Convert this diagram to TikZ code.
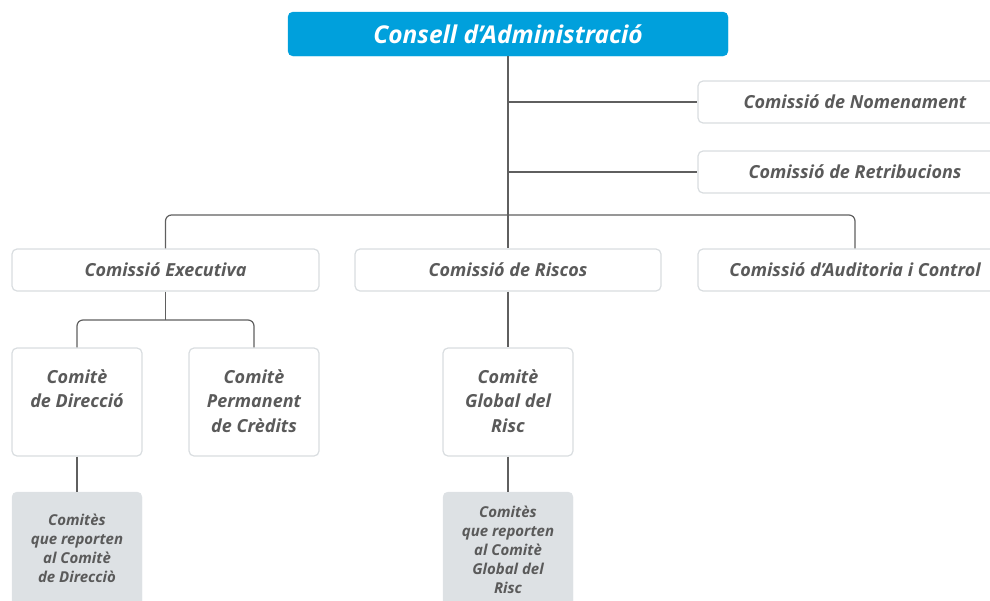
\documentclass[tikz,border=0pt]{standalone}
\usepackage{fontspec}
\setmainfont{Open Sans}
\definecolor{cyanbox}{HTML}{00A0DC}
\definecolor{txt}{HTML}{5A5A5A}
\definecolor{edge}{HTML}{D9DDE0}
\definecolor{greyfill}{HTML}{DDE1E4}
\definecolor{conn}{HTML}{5F5F5F}
\tikzset{
  box/.style={draw=edge, line width=1.2pt, fill=white, rounded corners=5pt, inner sep=0pt, text=txt, font=\fontsize{18}{22}\selectfont\bfseries\itshape},
  greybox/.style={draw=greyfill, fill=greyfill, rounded corners=5pt, inner sep=0pt},
  lbl/.style={text=txt, align=center, inner sep=0pt, font=\fontsize{18}{24.5}\selectfont\bfseries\itshape},
  slbl/.style={text=txt, align=center, inner sep=0pt, font=\fontsize{15}{19}\selectfont\bfseries\itshape},
  link/.style={draw=conn, line width=1.2pt},
}
\begin{document}
\begin{tikzpicture}[x=1pt,y=-1pt]
\useasboundingbox (0,0) rectangle (990,600);
% top
\node[draw=cyanbox, fill=cyanbox, rounded corners=5pt, minimum width=440pt, minimum height=44pt, inner sep=0pt, text=white, font=\fontsize{24.5}{28}\selectfont\bfseries\itshape] (ca) at (508,34) {Consell d’Administració};
\node[box, minimum width=314pt, minimum height=42pt] (nom) at (855,102) {Comissió de Nomenament};
\node[box, minimum width=314pt, minimum height=42pt] (ret) at (855,172) {Comissió de Retribucions};
\node[box, minimum width=307pt, minimum height=42pt] (ex) at (165.5,270) {Comissió Executiva};
\node[box, minimum width=306pt, minimum height=42pt] (ri) at (508,270) {Comissió de Riscos};
\node[box, minimum width=314pt, minimum height=42pt] (au) at (855,270) {Comissió d’Auditoria i Control};
% committees
\node[box, minimum width=130pt, minimum height=108pt] (cd) at (77,402) {};
\node[box, minimum width=130pt, minimum height=108pt] (cp) at (254,402) {};
\node[box, minimum width=130pt, minimum height=108pt] (cg) at (508,402) {};
\node[lbl, anchor=north] (cdt) at ([yshift=-22pt]cd.north) {Comitè\\de Direcció};
\node[lbl, anchor=north] (cpt) at ([yshift=-22pt]cp.north) {Comitè\\Permanent\\de Crèdits};
\node[lbl, anchor=north] (cgt) at ([yshift=-22pt]cg.north) {Comitè\\Global del\\Risc};
% grey boxes
\node[greybox, minimum width=130pt, minimum height=120pt] (gd) at (77,552) {};
\node[greybox, minimum width=130pt, minimum height=120pt] (gg) at (508,552) {};
\node[slbl, anchor=north] (gdt) at ([yshift=-22pt]gd.north) {Comitès\\que reporten\\al Comitè\\de Direcciò};
\node[slbl, anchor=north] (ggt) at ([yshift=-14pt]gg.north) {Comitès\\que reporten\\al Comitè\\Global del\\Risc};
% connectors
\coordinate (bus) at (508,215);
\coordinate (bus2) at (165.5,320);
\draw[link] (ca.south) -- (ri.north);
\draw[link] (ca.south |- nom.west) -- (nom.west);
\draw[link] (ca.south |- ret.west) -- (ret.west);
\draw[link, rounded corners=6pt] (ex.north) |- (bus) -| (au.north);
\draw[link] (ex.south) -- (bus2);
\draw[link, rounded corners=6pt] (cd.north) |- (bus2) -| (cp.north);
\draw[link] (cd.south) -- (gd.north);
\draw[link] (ri.south) -- (cg.north);
\draw[link] (cg.south) -- (gg.north);
\end{tikzpicture}
\end{document}
